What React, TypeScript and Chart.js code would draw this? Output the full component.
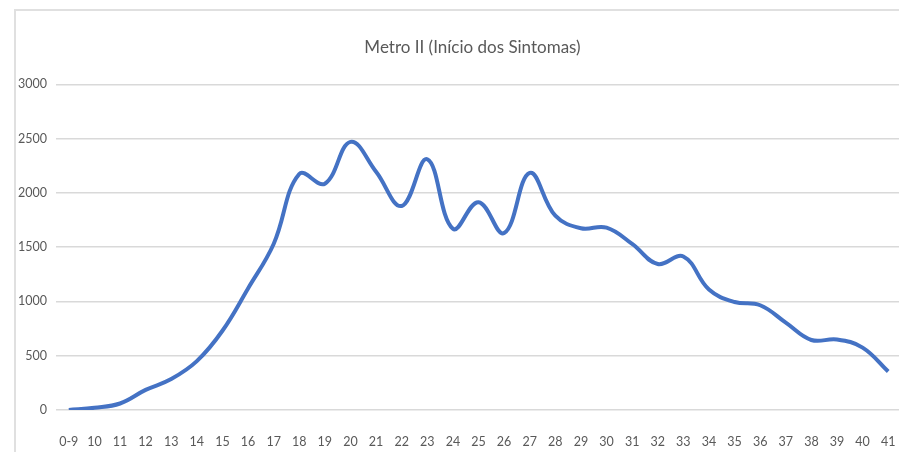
import React, { useEffect, useRef } from "react";
import { Chart, registerables } from "chart.js";

Chart.register(...registerables);

const categories: string[] = [
  "0-9", "10", "11", "12", "13", "14", "15", "16", "17", "18", "19", "20",
  "21", "22", "23", "24", "25", "26", "27", "28", "29", "30", "31", "32",
  "33", "34", "35", "36", "37", "38", "39", "40", "41",
];

const cases: number[] = [
  0, 20, 60, 185, 285, 450, 730, 1120, 1530, 2175, 2085, 2470,
  2195, 1880, 2310, 1670, 1915, 1630, 2185, 1790, 1675, 1680, 1530, 1345,
  1415, 1110, 995, 965, 805, 645, 650, 575, 355,
];

const yMin = 0;
const yMax = 3000;
const yStep = 500;

const titleText = "Metro II (Início dos Sintomas)";

const FONT = "Lato, 'Liberation Sans', sans-serif";

const shiftTitle = {
  id: "shiftTitle",
  afterLayout(chart: any) {
    const tb = chart.titleBlock;
    if (tb) {
      tb.left += 14;
      tb.right += 14;
    }
  },
};

export default function App() {
  const ref = useRef<HTMLCanvasElement>(null);

  useEffect(() => {
    if (!ref.current) return;
    const chart = new Chart(ref.current, {
      type: "line",
      data: {
        labels: categories,
        datasets: [
          {
            data: cases,
            borderColor: "#4472C4",
            borderWidth: 4,
            pointRadius: 0,
            tension: 0.4,
            fill: false,
          },
        ],
      },
      plugins: [shiftTitle],
      options: {
        responsive: false,
        animation: false,
        devicePixelRatio: 1,
        layout: { padding: 0 },
        plugins: {
          legend: { display: false },
          tooltip: { enabled: false },
          title: {
            display: true,
            text: titleText,
            color: "#595959",
            font: { family: FONT, size: 17, weight: "normal" },
            padding: { top: 26, bottom: 27 },
          },
        },
        scales: {
          x: {
            type: "category",
            offset: true,
            grid: { display: false },
            border: { display: false },
            ticks: {
              color: "#595959",
              font: { family: FONT, size: 12.5 },
              padding: 16,
              maxRotation: 0,
              autoSkip: false,
            },
            afterFit: (s: any) => {
              s.height = 42;
              s.paddingLeft = 0;
              s.paddingRight = 0;
            },
          },
          y: {
            min: yMin,
            max: yMax,
            grid: { color: "#d9d9d9", lineWidth: 1.5, drawTicks: false },
            border: { display: false },
            ticks: {
              stepSize: yStep,
              color: "#595959",
              font: { family: FONT, size: 12.5 },
              padding: 9,
              callback: (v: any) => String(v),
            },
            afterFit: (s: any) => {
              s.width = 40;
              s.paddingTop = 0;
              s.paddingBottom = 0;
            },
          },
        },
      },
    });
    return () => chart.destroy();
  }, []);

  return (
    <div
      style={{
        position: "fixed",
        left: 0,
        top: 0,
        width: 899,
        height: 452,
        overflow: "hidden",
        background: "#fff",
      }}
    >
      <div
        style={{
          position: "absolute",
          left: 14,
          top: 9,
          width: 940,
          height: 480,
          borderTop: "2px solid #e0e0e0",
          borderLeft: "2px solid #e0e0e0",
          boxSizing: "border-box",
        }}
      />
      <canvas
        ref={ref}
        width={885}
        height={441}
        style={{ position: "absolute", left: 16, top: 11, width: 885, height: 441 }}
      />
    </div>
  );
}
